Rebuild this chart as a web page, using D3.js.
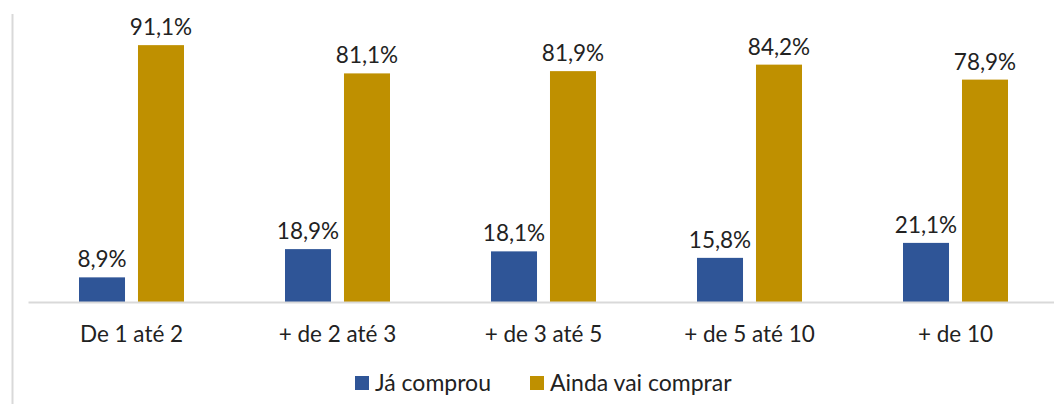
<!DOCTYPE html>
<html>
<head>
<meta charset="utf-8">
<script src="https://cdn.jsdelivr.net/npm/d3@7"></script>
<style>
  body { margin: 0; background: #fff; }
  svg { display: block; font-family: Lato, "Open Sans", sans-serif; }
</style>
</head>
<body>
<div id="chart"></div>
<script>
const categories = ["De 1 até 2", "+ de 2 até 3", "+ de 3 até 5", "+ de 5 até 10", "+ de 10"];
const seriesNames = ["Já comprou", "Ainda vai comprar"];
const jaComprou = [8.9, 18.9, 18.1, 15.8, 21.1];
const aindaVaiComprar = [91.1, 81.1, 81.9, 84.2, 78.9];
const colors = ["#2F5597", "#BF9000"];

const width = 1054, height = 404;
const margin = { top: 20, left: 28.5, baseline: 302.5 };

const svg = d3.select("#chart").append("svg")
    .attr("width", width)
    .attr("height", height);

// frame line on the left
svg.append("line")
    .attr("x1", 12.5).attr("x2", 12.5)
    .attr("y1", 14).attr("y2", height)
    .attr("stroke", "#d9d9d9").attr("stroke-width", 2);

const x0 = d3.scaleBand()
    .domain(categories)
    .range([margin.left, margin.left + 206 * categories.length]);

const x1 = d3.scaleBand()
    .domain(seriesNames)
    .range([x0.bandwidth() / 2 - 52.5, x0.bandwidth() / 2 + 52.5])
    .paddingInner(0.22);

const y = d3.scaleLinear()
    .domain([0, 100])
    .range([margin.baseline, margin.top]);

const rows = categories.map((c, i) => ({
    cat: c,
    vals: [jaComprou[i], aindaVaiComprar[i]]
}));

const groups = svg.selectAll("g.grp")
    .data(rows)
    .join("g")
    .attr("class", "grp")
    .attr("transform", d => `translate(${x0(d.cat)},0)`);

groups.selectAll("rect")
    .data(d => d.vals.map((v, j) => ({ name: seriesNames[j], v, j })))
    .join("rect")
    .attr("x", d => x1(d.name))
    .attr("y", d => y(d.v))
    .attr("width", x1.bandwidth())
    .attr("height", d => y(0) - y(d.v))
    .attr("fill", d => colors[d.j]);

groups.selectAll("text.lbl")
    .data(d => d.vals.map((v, j) => ({ name: seriesNames[j], v })))
    .join("text")
    .attr("class", "lbl")
    .attr("x", d => x1(d.name) + x1.bandwidth() / 2)
    .attr("y", d => y(d.v) - 10)
    .attr("text-anchor", "middle")
    .attr("font-size", 22.5)
    .attr("fill", "#222")
    .text(d => d.v.toFixed(1).replace(".", ",") + "%");

// x axis
const xAxis = svg.append("g")
    .attr("transform", `translate(0,${margin.baseline})`)
    .call(d3.axisBottom(x0).tickSize(0).tickPadding(24));
xAxis.select(".domain")
    .attr("stroke", "#d9d9d9").attr("stroke-width", 2)
    .attr("d", `M${margin.left},0H${width}`);
xAxis.selectAll("text")
    .attr("font-size", 22.5)
    .attr("font-family", "Lato, 'Open Sans', sans-serif")
    .attr("fill", "#222");

// legend
const legendX = [355, 530];
const legend = svg.selectAll("g.leg")
    .data(seriesNames)
    .join("g")
    .attr("class", "leg")
    .attr("transform", (d, i) => `translate(${legendX[i]},376)`);
legend.append("rect")
    .attr("width", 14).attr("height", 14)
    .attr("fill", (d, i) => colors[i]);
legend.append("text")
    .attr("x", 20).attr("y", 15)
    .attr("font-size", 23)
    .attr("fill", "#222")
    .text(d => d);
</script>
</body>
</html>
